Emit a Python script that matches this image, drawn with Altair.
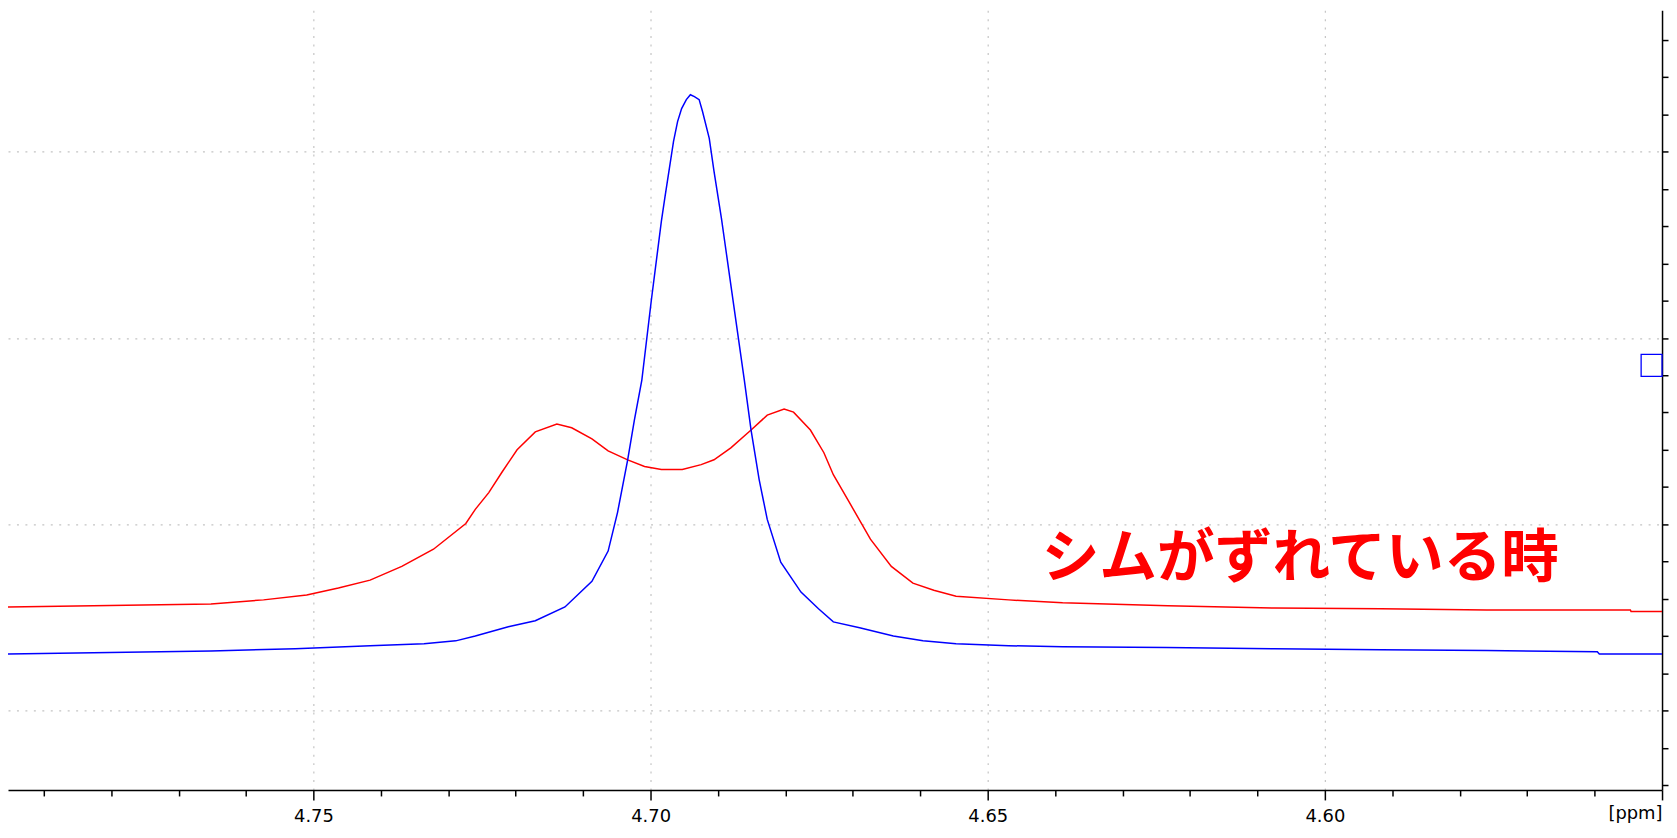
import altair as alt
import pandas as pd

# ---- spectrum traces (chemical shift in ppm, intensity in arbitrary units) ----
blue_ppm = [4.7953, 4.7827, 4.7652, 4.7527, 4.7416, 4.7336, 4.7289, 4.7260, 4.7211,
            4.7171, 4.7127, 4.7087, 4.7063, 4.7049, 4.7034, 4.7024, 4.7013, 4.6999,
            4.6984, 4.6979, 4.6966, 4.6960, 4.6954, 4.6947, 4.6941, 4.6935, 4.6928,
            4.6923, 4.6913, 4.6906, 4.6895, 4.6884, 4.6861, 4.6851, 4.6839, 4.6827,
            4.6807, 4.6777, 4.6751, 4.6729, 4.6690, 4.6640, 4.6596, 4.6547, 4.6469,
            4.6389, 4.6235, 4.6075, 4.5917, 4.5760, 4.5596, 4.5593, 4.5500]
blue_int = [3.52, 3.55, 3.60, 3.66, 3.74, 3.79, 3.87, 4.00, 4.25,
            4.41, 4.78, 5.47, 6.28, 7.32, 8.73, 9.80, 10.87, 13.00,
            15.14, 15.75, 17.28, 17.81, 18.16, 18.40, 18.53, 18.48, 18.40,
            18.08, 17.36, 16.48, 15.22, 13.81, 10.87, 9.53, 8.20, 7.13,
            5.98, 5.18, 4.73, 4.38, 4.22, 4.00, 3.87, 3.79, 3.74,
            3.71, 3.69, 3.66, 3.63, 3.61, 3.58, 3.52, 3.52]

red_ppm = [4.7953, 4.7827, 4.7652, 4.7574, 4.7510, 4.7463, 4.7416, 4.7369, 4.7322,
           4.7274, 4.7260, 4.7240, 4.7220, 4.7198, 4.7171, 4.7139, 4.7117, 4.7087,
           4.7063, 4.7034, 4.7009, 4.6984, 4.6953, 4.6925, 4.6906, 4.6881, 4.6851,
           4.6827, 4.6802, 4.6788, 4.6763, 4.6743, 4.6729, 4.6705, 4.6674, 4.6643,
           4.6611, 4.6580, 4.6547, 4.6469, 4.6389, 4.6233, 4.6075, 4.5917, 4.5760,
           4.5547, 4.5546, 4.5500]
red_int = [4.78, 4.81, 4.86, 4.97, 5.10, 5.29, 5.50, 5.87, 6.33,
           7.02, 7.40, 7.85, 8.41, 9.00, 9.48, 9.69, 9.59, 9.29,
           8.97, 8.73, 8.55, 8.47, 8.47, 8.60, 8.73, 9.05, 9.53,
           9.93, 10.09, 10.01, 9.53, 8.92, 8.33, 7.58, 6.60, 5.87,
           5.42, 5.23, 5.07, 4.97, 4.89, 4.81, 4.75, 4.73, 4.70,
           4.70, 4.66, 4.66]

# ---- axis tick positions ----
x_ticks = [4.55, 4.56, 4.57, 4.58, 4.59, 4.60, 4.61, 4.62, 4.63, 4.64, 4.65, 4.66,
           4.67, 4.68, 4.69, 4.70, 4.71, 4.72, 4.73, 4.74, 4.75, 4.76, 4.77, 4.78, 4.79]
y_ticks = [0, 1, 2, 3, 4, 5, 6, 7, 8, 9, 10, 11, 12, 13, 14, 15, 16, 17, 18, 19, 20]

# ---- annotation ----
note_text = ["シムがずれている時"]
note_ppm = [4.6420]
note_int = [6.05]

# reference-level marker (small box on the right axis)
marker_ppm = [4.5531]
marker_ppm2 = [4.5500]
marker_int = [10.97]
marker_int2 = [11.56]

rows = []
for i, (p, v) in enumerate(zip(red_ppm, red_int)):
    rows.append({"ppm": p, "intensity": v, "series": "red", "idx": i})
for i, (p, v) in enumerate(zip(blue_ppm, blue_int)):
    rows.append({"ppm": p, "intensity": v, "series": "blue", "idx": i})
df = pd.DataFrame(rows)

note_df = pd.DataFrame({"ppm": note_ppm, "intensity": note_int, "label": note_text})
marker_df = pd.DataFrame({"ppm": marker_ppm, "ppm2": marker_ppm2,
                          "intensity": marker_int, "intensity2": marker_int2})

W, H = 1663, 784
major_test = "round(datum.value*100) % 5 == 0"

x_axis = alt.Axis(
    values=x_ticks, tickCount=40,
    labelExpr=f"({major_test}) && datum.value > 4.555 ? format(datum.value, '.2f') : ''",
    tickSize={"condition": {"test": major_test, "value": 10}, "value": 6},
    tickColor="black", tickWidth=1.5,
    domainColor="black", domainWidth=1.5,
    labelFont="DejaVu Sans", labelFontSize=18, labelColor="black",
    labelPadding=8, labelFlush=False, labelOverlap=False,
    grid=True, gridColor="#c4c4c4", gridDash=[2, 6.5], gridWidth=1.2,
    gridOpacity={"condition": {"test": f"({major_test}) && datum.value > 4.555", "value": 1}, "value": 0},
    title="[ppm]", titleX=W, titleY=15, titleAlign="right", titleBaseline="top",
    titleFont="DejaVu Sans", titleFontSize=18, titleFontWeight="normal", titleColor="black",
)
y_axis = alt.Axis(
    orient="right", values=y_ticks, tickCount=40, labels=False,
    tickSize=6, tickColor="black", tickWidth=1.5,
    domainColor="black", domainWidth=1.5, title=None,
    grid=True, gridColor="#c4c4c4", gridDash=[2, 6.5], gridWidth=1.2,
    gridOpacity={"condition": {"test": "datum.value % 5 == 2", "value": 1}, "value": 0},
)

x_enc = alt.X("ppm:Q", scale=alt.Scale(domain=[4.55, 4.7953], reverse=True, nice=False, zero=False),
              axis=x_axis)
y_enc = alt.Y("intensity:Q", scale=alt.Scale(domain=[-0.1335, 20.80], nice=False, zero=False),
              axis=y_axis)

lines = alt.Chart(df).mark_line(strokeWidth=1.5, clip=True).encode(
    x=x_enc, y=y_enc,
    color=alt.Color("series:N", scale=alt.Scale(domain=["red", "blue"], range=["#ff0000", "#0000ff"]),
                    legend=None),
    detail="series:N",
    order="idx:Q",
)

marker = alt.Chart(marker_df).mark_rect(stroke="#0000ff", strokeWidth=1.3, fillOpacity=0).encode(
    x="ppm:Q", x2="ppm2:Q", y="intensity:Q", y2="intensity2:Q"
)

note = alt.Chart(note_df).mark_text(
    font="Noto Sans CJK JP", fontWeight="bold", fontSize=58, color="#ff0000",
    align="left", baseline="middle"
).encode(x="ppm:Q", y="intensity:Q", text="label:N")

chart = alt.layer(lines, marker, note).properties(
    width=W, height=H, padding=0, background="white"
).configure_view(stroke=None)

chart.save("out.html", embed_options={"renderer": "svg", "actions": False})
